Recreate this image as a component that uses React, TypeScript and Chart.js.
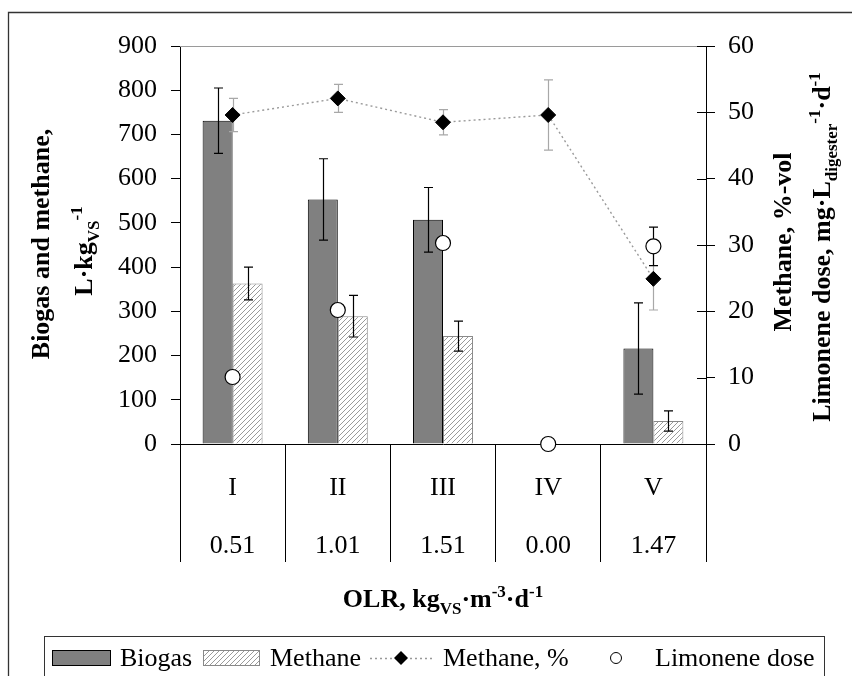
import React, { useEffect, useRef } from 'react';
import { Chart, registerables } from 'chart.js';

Chart.register(...registerables);

// ---------- data ----------
const categories = ['I', 'II', 'III', 'IV', 'V'];
const olrValues = ['0.51', '1.01', '1.51', '0.00', '1.47'];
const biogas = [731, 553, 507, 0, 216];
const biogasErr = [74, 92, 73, 0, 103];
const methane = [363, 289, 244, 0, 52];
const methaneErr = [37, 47, 34, 0, 23];
const methanePct = [49.6, 52.1, 48.5, 49.6, 24.9];
const methanePctErr = [2.5, 2.1, 1.9, 5.3, 4.7];
const limonene = [10.1, 20.2, 30.3, 0, 29.8];
const limoneneErr = [0, 0, 0, 0, 2.9];
const leftTicks = { min: 0, max: 900, step: 100 };
const rightTicks = { min: 0, max: 60, step: 10 };

const FONT = "'Liberation Serif', 'Times New Roman', Times, serif";
const FS = 26;

type Part = { t: string; sub?: boolean; sup?: boolean };

function setFont(ctx: CanvasRenderingContext2D, p: Part, bold: boolean) {
  const size = p.sub || p.sup ? 17 : FS;
  ctx.font = `${bold ? 'bold ' : ''}${size}px ${FONT}`;
}

function drawRich(ctx: CanvasRenderingContext2D, parts: Part[], bold: boolean) {
  let total = 0;
  const widths: number[] = [];
  for (const p of parts) {
    setFont(ctx, p, bold);
    const w = ctx.measureText(p.t).width;
    widths.push(w);
    total += w;
  }
  let x = -total / 2;
  ctx.textAlign = 'left';
  ctx.textBaseline = 'alphabetic';
  parts.forEach((p, i) => {
    setFont(ctx, p, bold);
    const dy = p.sub ? 7 : p.sup ? -10 : 0;
    ctx.fillText(p.t, x, dy);
    x += widths[i];
  });
}

function makeHatch(): CanvasPattern | string {
  const c = document.createElement('canvas');
  c.width = 5;
  c.height = 5;
  const g = c.getContext('2d');
  if (!g) return '#ddd';
  g.fillStyle = '#ffffff';
  g.fillRect(0, 0, 5, 5);
  g.strokeStyle = '#9a9a9a';
  g.lineWidth = 1;
  g.beginPath();
  g.moveTo(0, 5);
  g.lineTo(5, 0);
  g.moveTo(-1, 1);
  g.lineTo(1, -1);
  g.moveTo(4, 6);
  g.lineTo(6, 4);
  g.stroke();
  return g.createPattern(c, 'repeat') || '#ddd';
}

const errorSets: Record<number, { values: number[]; errs: number[]; color: string; axis: string; cap: number }> = {
  0: { values: biogas, errs: biogasErr, color: '#000000', axis: 'y', cap: 9 },
  1: { values: methane, errs: methaneErr, color: '#000000', axis: 'y', cap: 9 },
  2: { values: methanePct, errs: methanePctErr, color: '#a8a8a8', axis: 'y1', cap: 9 },
  3: { values: limonene, errs: limoneneErr, color: '#000000', axis: 'y1', cap: 9 },
};

function drawErrors(chart: any, index: number) {
  const set = errorSets[index];
  if (!set) return;
  const meta = chart.getDatasetMeta(index);
  const scale = chart.scales[set.axis];
  const ctx: CanvasRenderingContext2D = chart.ctx;
  ctx.save();
  ctx.strokeStyle = set.color;
  ctx.lineWidth = 1.2;
  meta.data.forEach((el: any, i: number) => {
    const e = set.errs[i];
    if (!e) return;
    const v = set.values[i];
    const x = Math.round(el.x) + 0.5;
    const yT = scale.getPixelForValue(v + e);
    const yB = scale.getPixelForValue(v - e);
    ctx.beginPath();
    ctx.moveTo(x, yT);
    ctx.lineTo(x, yB);
    ctx.moveTo(x - set.cap / 2, yT);
    ctx.lineTo(x + set.cap / 2, yT);
    ctx.moveTo(x - set.cap / 2, yB);
    ctx.lineTo(x + set.cap / 2, yB);
    ctx.stroke();
  });
  ctx.restore();
}

const decorPlugin = {
  id: 'decor',
  beforeDatasetDraw(chart: any, args: any) {
    if (args.meta.type === 'line') drawErrors(chart, args.index);
  },
  afterDatasetDraw(chart: any, args: any) {
    if (args.meta.type === 'bar') drawErrors(chart, args.index);
  },
  afterDraw(chart: any) {
    const ctx: CanvasRenderingContext2D = chart.ctx;
    const ca = chart.chartArea;
    const y1 = chart.scales.y1;
    ctx.save();

    // outer frame
    ctx.strokeStyle = '#333';
    ctx.lineWidth = 1.3;
    ctx.beginPath();
    ctx.moveTo(8.5, 700);
    ctx.lineTo(8.5, 12.5);
    ctx.lineTo(900, 12.5);
    ctx.stroke();

    // top border of plot area
    ctx.strokeStyle = '#9a9a9a';
    ctx.lineWidth = 1;
    ctx.beginPath();
    ctx.moveTo(ca.left, Math.round(ca.top) + 0.5);
    ctx.lineTo(ca.right, Math.round(ca.top) + 0.5);
    ctx.stroke();

    // inner half of right-axis ticks
    ctx.strokeStyle = '#000';
    ctx.beginPath();
    y1.ticks.forEach((t: any) => {
      const y = Math.round(y1.getPixelForValue(t.value)) + 0.5;
      ctx.moveTo(ca.right - 9, y);
      ctx.lineTo(ca.right, y);
    });
    ctx.stroke();

    ctx.fillStyle = '#000';
    // left title
    ctx.save();
    ctx.translate(49, 244);
    ctx.rotate(-Math.PI / 2);
    drawRich(ctx, [{ t: 'Biogas and methane,' }], true);
    ctx.restore();
    ctx.save();
    ctx.translate(92, 251);
    ctx.rotate(-Math.PI / 2);
    drawRich(ctx, [{ t: 'L·kg' }, { t: 'VS', sub: true }, { t: '-1', sup: true }], true);
    ctx.restore();

    // right titles
    ctx.save();
    ctx.translate(791, 242);
    ctx.rotate(-Math.PI / 2);
    drawRich(ctx, [{ t: 'Methane, %-vol' }], true);
    ctx.restore();
    ctx.save();
    ctx.translate(830, 247);
    ctx.rotate(-Math.PI / 2);
    drawRich(
      ctx,
      [
        { t: 'Limonene dose, mg·L' },
        { t: 'digester', sub: true },
        { t: '-1', sup: true },
        { t: '·d' },
        { t: '-1', sup: true },
      ],
      true
    );
    ctx.restore();

    // x title
    ctx.save();
    ctx.translate(443, 607);
    drawRich(
      ctx,
      [{ t: 'OLR, kg' }, { t: 'VS', sub: true }, { t: '·m' }, { t: '-3', sup: true }, { t: '·d' }, { t: '-1', sup: true }],
      true
    );
    ctx.restore();

    // legend
    const ly = 658;
    ctx.strokeStyle = '#333';
    ctx.lineWidth = 1;
    ctx.strokeRect(44.5, 636.5, 780, 60);
    ctx.fillStyle = '#808080';
    ctx.fillRect(52, 650, 59, 16);
    ctx.strokeStyle = '#000';
    ctx.strokeRect(52.5, 650.5, 58, 15);
    ctx.fillStyle = chart.data.datasets[1].backgroundColor;
    ctx.fillRect(203, 650, 57, 16);
    ctx.strokeStyle = '#888';
    ctx.strokeRect(203.5, 650.5, 56, 15);
    ctx.strokeStyle = '#999';
    ctx.setLineDash([2, 3]);
    ctx.lineWidth = 1.3;
    ctx.beginPath();
    ctx.moveTo(370, ly + 0.5);
    ctx.lineTo(433, ly + 0.5);
    ctx.stroke();
    ctx.setLineDash([]);
    ctx.fillStyle = '#000';
    ctx.beginPath();
    ctx.moveTo(401, ly - 7);
    ctx.lineTo(408, ly);
    ctx.lineTo(401, ly + 7);
    ctx.lineTo(394, ly);
    ctx.closePath();
    ctx.fill();
    ctx.fillStyle = '#fff';
    ctx.strokeStyle = '#000';
    ctx.lineWidth = 1;
    ctx.beginPath();
    ctx.arc(616, ly, 5.5, 0, Math.PI * 2);
    ctx.fill();
    ctx.stroke();
    ctx.fillStyle = '#000';
    ctx.font = `${FS}px ${FONT}`;
    ctx.textAlign = 'left';
    ctx.textBaseline = 'middle';
    ctx.fillText('Biogas', 120, ly + 1);
    ctx.fillText('Methane', 270, ly + 1);
    ctx.fillText('Methane, %', 443, ly + 1);
    ctx.fillText('Limonene dose', 655, ly + 1);

    ctx.restore();
  },
};

export default function App() {
  const ref = useRef<HTMLCanvasElement | null>(null);

  useEffect(() => {
    if (!ref.current) return;
    const hatch = makeHatch();
    const labels = categories.map((c, i) => [c, olrValues[i]]);
    const chart = new Chart(ref.current, {
      type: 'bar',
      data: {
        labels,
        datasets: [
          {
            type: 'bar',
            label: 'Biogas',
            data: biogas,
            backgroundColor: '#808080',
            borderColor: '#000000',
            borderWidth: 1,
            yAxisID: 'y',
            order: 3,
            categoryPercentage: 0.57,
            barPercentage: 1.0,
          },
          {
            type: 'bar',
            label: 'Methane',
            data: methane,
            backgroundColor: hatch as any,
            borderColor: '#8a8a8a',
            borderWidth: 1,
            yAxisID: 'y',
            order: 4,
            categoryPercentage: 0.57,
            barPercentage: 1.0,
          },
          {
            type: 'line',
            label: 'Methane, %',
            data: methanePct,
            yAxisID: 'y1',
            borderColor: '#9a9a9a',
            borderWidth: 1.4,
            borderDash: [2, 3],
            pointStyle: 'rectRot',
            pointRadius: 7.5,
            pointBackgroundColor: '#000',
            pointBorderColor: '#000',
            pointBorderWidth: 1,
            fill: false,
            order: 1,
            clip: false as any,
          },
          {
            type: 'line',
            label: 'Limonene dose',
            data: limonene,
            yAxisID: 'y1',
            showLine: false,
            pointStyle: 'circle',
            pointRadius: 7.5,
            pointBackgroundColor: '#ffffff',
            pointBorderColor: '#000000',
            pointBorderWidth: 1.2,
            order: 0,
            clip: false as any,
          },
        ] as any,
      },
      options: {
        responsive: false,
        animation: false,
        devicePixelRatio: 1,
        layout: { padding: { top: 46, left: 0, right: 0, bottom: 0 } },
        plugins: {
          legend: { display: false },
          tooltip: { enabled: false },
        },
        scales: {
          x: {
            type: 'category',
            position: 'bottom',
            offset: true,
            grid: {
              display: true,
              offset: true,
              drawOnChartArea: false,
              drawTicks: true,
              tickLength: 118,
              color: '#000',
              lineWidth: 1,
            },
            border: { display: true, color: '#000', width: 1 },
            ticks: {
              color: '#000',
              font: { family: FONT, size: FS, lineHeight: 2.24 },
              padding: -103,
              autoSkip: false,
              maxRotation: 0,
              minRotation: 0,
            },
            afterFit: (s: any) => {
              s.height = 232;
            },
          },
          y: {
            type: 'linear',
            position: 'left',
            min: leftTicks.min,
            max: leftTicks.max,
            grid: {
              display: true,
              drawOnChartArea: false,
              drawTicks: true,
              tickLength: 9,
              color: '#000',
            },
            border: { display: true, color: '#000', width: 1 },
            ticks: {
              stepSize: leftTicks.step,
              color: '#000',
              font: { family: FONT, size: FS },
              padding: 14,
            },
            afterFit: (s: any) => {
              s.width = 180;
            },
          },
          y1: {
            type: 'linear',
            position: 'right',
            min: rightTicks.min,
            max: rightTicks.max,
            grid: {
              display: true,
              drawOnChartArea: false,
              drawTicks: true,
              tickLength: 9,
              color: '#000',
            },
            border: { display: true, color: '#000', width: 1 },
            ticks: {
              stepSize: rightTicks.step,
              color: '#000',
              font: { family: FONT, size: FS },
              padding: 13,
            },
            afterFit: (s: any) => {
              s.width = 146;
            },
          },
        },
      } as any,
      plugins: [decorPlugin as any],
    });
    return () => chart.destroy();
  }, []);

  return (
    <div style={{ position: 'absolute', left: 0, top: 0, width: 852, height: 676, background: '#fff' }}>
      <canvas ref={ref} width={852} height={676} style={{ display: 'block' }} />
    </div>
  );
}
